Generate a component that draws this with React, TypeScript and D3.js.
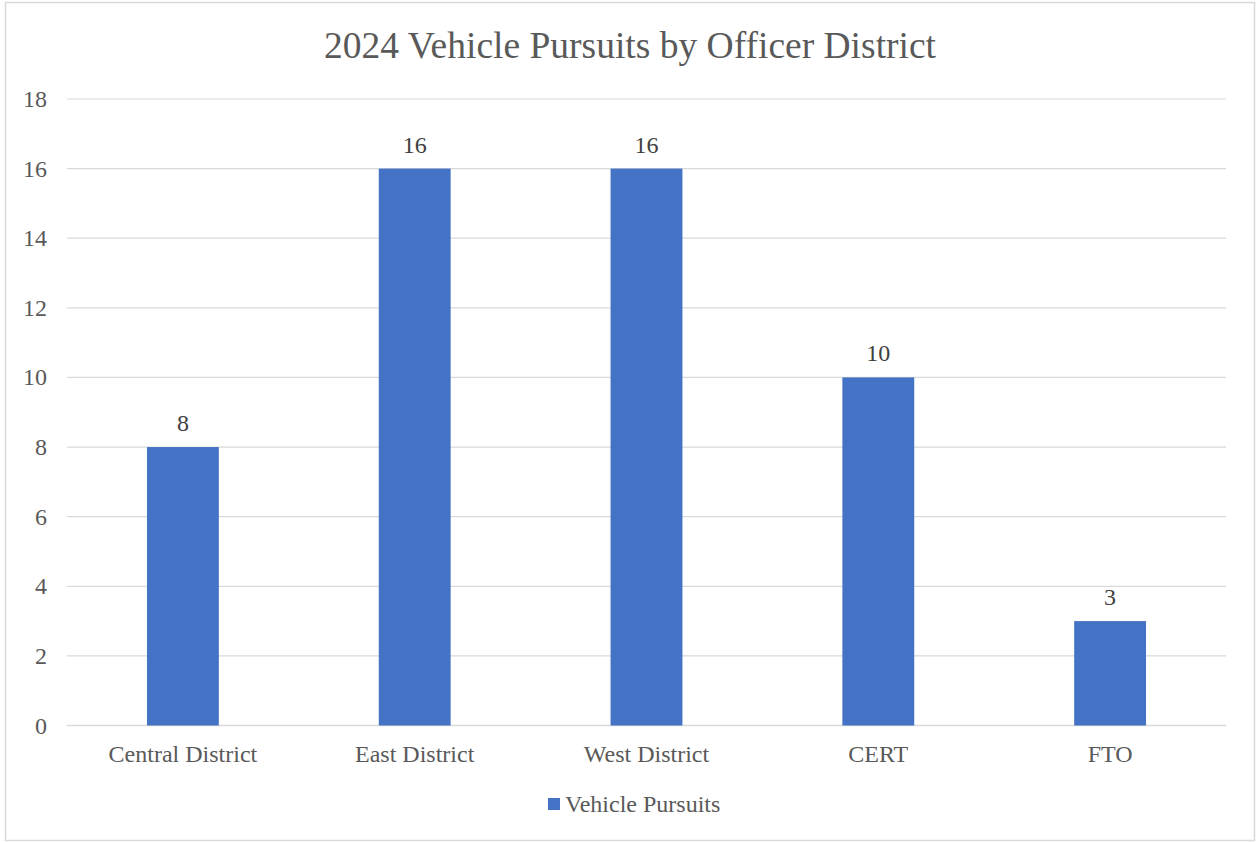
import React from "react";
import * as d3 from "d3";

const categories = ["Central District", "East District", "West District", "CERT", "FTO"];
const pursuits = [8, 16, 16, 10, 3];
const yTicks = [0, 2, 4, 6, 8, 10, 12, 14, 16, 18];
const title = "2024 Vehicle Pursuits by Officer District";
const seriesName = "Vehicle Pursuits";

export default function App() {
  const W = 1257, H = 842;
  const left = 67, right = 1226, top = 99, bottom = 725.5;
  const x = d3.scaleBand<string>().domain(categories).range([left, right]).paddingInner(0.69).paddingOuter(0.345);
  const y = d3.scaleLinear().domain([0, 18]).range([bottom, top]);
  const font = "'Liberation Serif', 'Times New Roman', serif";
  const grey = "#595959";
  const fs = 24;
  return (
    <svg width={W} height={H} style={{ position: "absolute", left: 0, top: 0, background: "#fff" }} fontFamily={font}>
      <rect x={5.5} y={2.5} width={1249} height={838} fill="#fff" stroke="#d9d9d9" strokeWidth={1.5} />
      <text x={630} y={58} textAnchor="middle" fontSize={37.5} fill={grey}>{title}</text>
      {yTicks.map((t) => (
        <g key={t}>
          <line x1={left} x2={right} y1={y(t)} y2={y(t)} stroke="#d9d9d9" strokeWidth={t === 0 ? 1.5 : 1.2} />
          <text x={47} y={y(t) + 8} textAnchor="end" fontSize={fs} fill={grey}>{t}</text>
        </g>
      ))}
      {categories.map((c, i) => (
        <g key={c}>
          <rect x={x(c)} y={y(pursuits[i])} width={x.bandwidth()} height={y(0) - y(pursuits[i])} fill="#4472c4" />
          <text x={(x(c) as number) + x.bandwidth() / 2} y={y(pursuits[i]) - 16} textAnchor="middle" fontSize={fs} fill="#404040">{pursuits[i]}</text>
          <text x={(x(c) as number) + x.bandwidth() / 2} y={762} textAnchor="middle" fontSize={fs} fill={grey}>{c}</text>
        </g>
      ))}
      <rect x={548} y={798} width={12} height={12} fill="#4472c4" />
      <text x={565} y={812} fontSize={fs} fill={grey}>{seriesName}</text>
    </svg>
  );
}
